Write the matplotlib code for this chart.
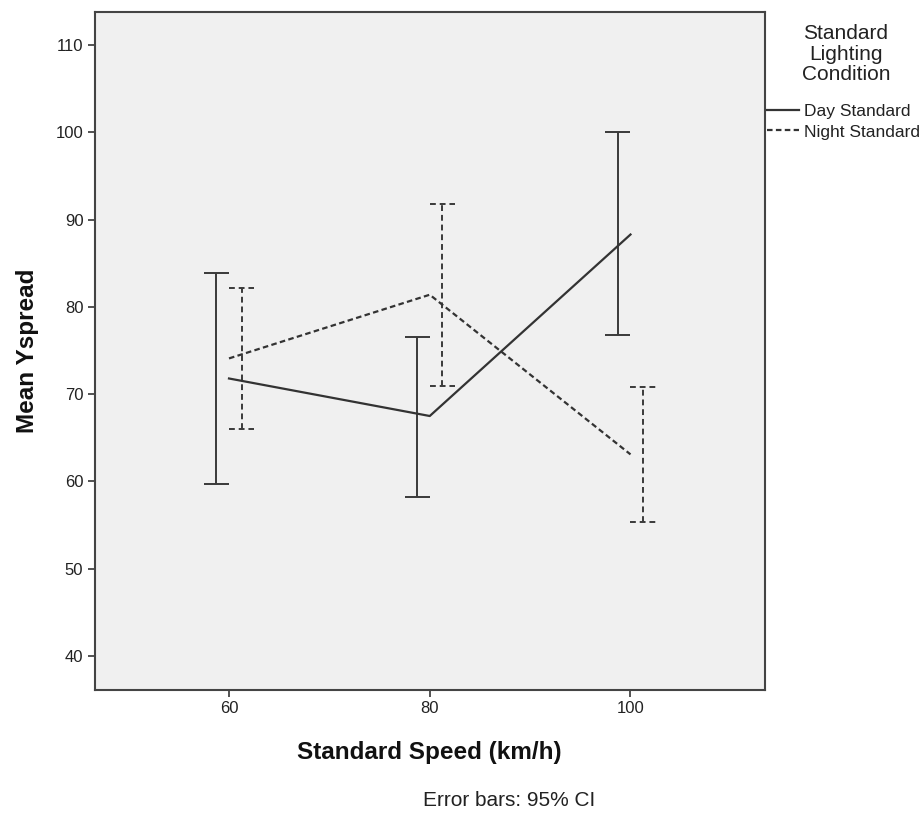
import matplotlib
matplotlib.use("Agg")
import matplotlib.pyplot as plt
from matplotlib.lines import Line2D

plt.rcParams["font.family"] = ["Liberation Sans", "DejaVu Sans"]

# Mean Yspread with 95% confidence intervals by speed and lighting condition
speeds = [60, 80, 100]
day_mean = [71.8, 67.5, 88.3]
day_low = [59.7, 58.2, 76.8]
day_high = [83.9, 76.5, 100.1]
night_mean = [74.1, 81.4, 63.1]
night_low = [66.0, 70.9, 55.3]
night_high = [82.2, 91.8, 70.8]

series_names = ["Day Standard", "Night Standard"]
legend_title = "Standard\nLighting\nCondition"
y_ticks = [40, 50, 60, 70, 80, 90, 100, 110]

ink = "#333333"
bar_ink = "#3a3a3a"
dash_line = (0, (2.5, 1.5))
dash_bar = (0, (3.0, 2.0))

W, H = 923, 814
fig = plt.figure(figsize=(W / 100, H / 100), dpi=100)
ax = fig.add_axes([94.5 / W, 1 - 690 / H, (765 - 94.5) / W, (690 - 12) / H])
ax.set_facecolor("#f0f0f0")

offset = 1.25   # horizontal dodge of the error bars
cap = 1.25      # half-width of the caps

def draw_ci(xs, lows, highs, ls):
    ax.vlines(xs, lows, highs, colors=bar_ink, linewidth=1.4, linestyles=ls)
    for x, lo, hi in zip(xs, lows, highs):
        ax.hlines([lo, hi], x - cap, x + cap, colors=bar_ink, linewidth=1.4, linestyles=ls)

draw_ci([s - offset for s in speeds], day_low, day_high, "solid")
draw_ci([s + offset for s in speeds], night_low, night_high, dash_bar)

ax.plot(speeds, day_mean, color=ink, linewidth=1.6, linestyle="-")
ax.plot(speeds, night_mean, color=ink, linewidth=1.6, linestyle=dash_line)

ax.set_xlim(46.6, 113.4)
ax.set_ylim(36.1, 113.8)
ax.set_xticks(speeds)
ax.set_yticks(y_ticks)
ax.tick_params(axis="both", direction="out", length=5, width=1.3, color="#444444",
               labelsize=12, labelcolor="#222222", pad=3)
for sp in ax.spines.values():
    sp.set_color("#444444")
    sp.set_linewidth(1.5)

ax.set_xlabel("Standard Speed (km/h)", fontsize=17.5, fontweight="bold", labelpad=18, color="#111111")
ax.set_ylabel("Mean Yspread", fontsize=17.5, fontweight="bold", labelpad=12, color="#111111")

fig.text(509 / W, 1 - 801 / H, "Error bars: 95% CI", ha="center", va="center",
         fontsize=15, color="#222222")

# legend title, then the two line entries beneath it
fig.text(846 / W, 1 - 24 / H, legend_title, ha="center", va="top", fontsize=15,
         linespacing=1.1, color="#222222", multialignment="center")

handles = [Line2D([], [], color=ink, linewidth=1.6, linestyle="-"),
           Line2D([], [], color=ink, linewidth=1.6, linestyle=dash_line)]
leg = fig.legend(handles, series_names, loc="upper left",
                 bbox_to_anchor=(767 / W, 1 - 104 / H),
                 frameon=False, fontsize=12.5,
                 handlelength=1.85, handletextpad=0.3, borderpad=0, borderaxespad=0,
                 labelspacing=0.3)
for t in leg.get_texts():
    t.set_color("#222222")

fig.savefig("out.png", dpi=100)
